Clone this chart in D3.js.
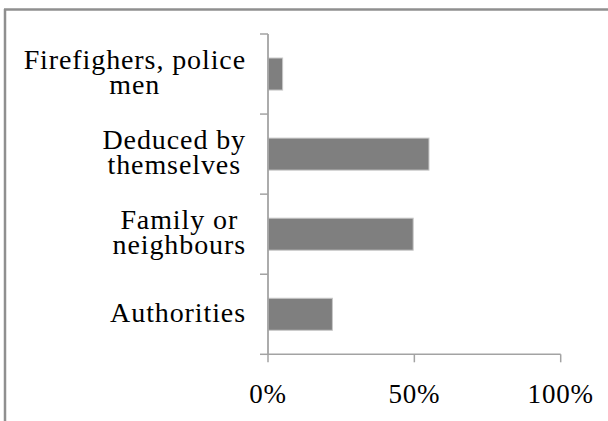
<!DOCTYPE html>
<html><head><meta charset="utf-8">
<script src="https://cdn.jsdelivr.net/npm/d3@7"></script>
<style>html,body{margin:0;padding:0;background:#fff;overflow:hidden}svg{display:block}</style>
</head><body>
<svg id="c" width="608" height="421"></svg>
<script>
const categories = [["Firefighers, police","men"],["Deduced by","themselves"],["Family or","neighbours"],["Authorities"]];
const values = [5, 55, 49.6, 22];
const xTicks = [0, 50, 100];
const xTickLabels = ["0%", "50%", "100%"];

(function(){
const svg = d3.select("#c");
const pL = 268, pR = 560.7, pT = 34, pB = 354.3;
const x = d3.scaleLinear().domain([0, 100]).range([pL, pR]);
const keys = categories.map((d,i)=>String(i));
const y = d3.scaleBand().domain(keys).range([pT, pB]).paddingInner(0.6).paddingOuter(0.3);
const step = y.step();
const axisColor = "#a3a3a3";
const FONT = '"Liberation Serif", "Times New Roman", serif';
const fs = 28;

// frame
svg.append("line").attr("x1",5).attr("x2",5).attr("y1",9).attr("y2",421).attr("stroke","#8f8f8f").attr("stroke-width",2.5);
svg.append("line").attr("x1",4).attr("x2",608).attr("y1",9.5).attr("y2",9.5).attr("stroke","#8f8f8f").attr("stroke-width",2.5);

// bars
svg.selectAll("rect.bar").data(values).join("rect").attr("class","bar")
  .attr("x", x(0)).attr("y",(d,i)=>y(keys[i]))
  .attr("width", d=>x(d)-x(0)).attr("height", y.bandwidth())
  .attr("fill","#7f7f7f").attr("stroke","#c8c8c8").attr("stroke-width",1);

// y axis
svg.append("line").attr("x1",pL).attr("x2",pL).attr("y1",pT).attr("y2",pB).attr("stroke",axisColor).attr("stroke-width",1.8);
const bounds = d3.range(keys.length+1).map(i=>pT + i*step);
svg.selectAll("line.yt").data(bounds).join("line").attr("class","yt")
  .attr("x1",pL-8).attr("x2",pL).attr("y1",d=>d).attr("y2",d=>d).attr("stroke",axisColor).attr("stroke-width",1.5);

// x axis
svg.append("line").attr("x1",pL).attr("x2",pR).attr("y1",pB).attr("y2",pB).attr("stroke",axisColor).attr("stroke-width",1.5);
svg.selectAll("line.xt").data(xTicks).join("line").attr("class","xt")
  .attr("x1",d=>x(d)).attr("x2",d=>x(d)).attr("y1",pB).attr("y2",pB+8).attr("stroke",axisColor).attr("stroke-width",1.5);
svg.selectAll("text.xl").data(xTicks).join("text").attr("class","xl")
  .attr("x",d=>x(d)).attr("y",403).attr("text-anchor","middle")
  .style("font-family",FONT).style("font-size","27px").style("letter-spacing","0.8px").attr("fill","#000")
  .text((d,i)=>xTickLabels[i]);

// category labels
const blockRight = 246;
categories.forEach((lines,i)=>{
  const cy = y(keys[i]) + y.bandwidth()/2;
  const g = svg.append("g");
  const ts = lines.map((t,j)=>g.append("text")
    .style("font-family",FONT).style("font-size",fs+"px").style("letter-spacing","0.9px").attr("fill","#000")
    .attr("text-anchor","middle").attr("y", cy + 7.5 + (j - (lines.length-1)/2)*25).text(t));
  const maxW = d3.max(ts, t=>t.node().getComputedTextLength());
  ts.forEach(t=>t.attr("x", blockRight - maxW/2));
});
})();
</script>
</body></html>
